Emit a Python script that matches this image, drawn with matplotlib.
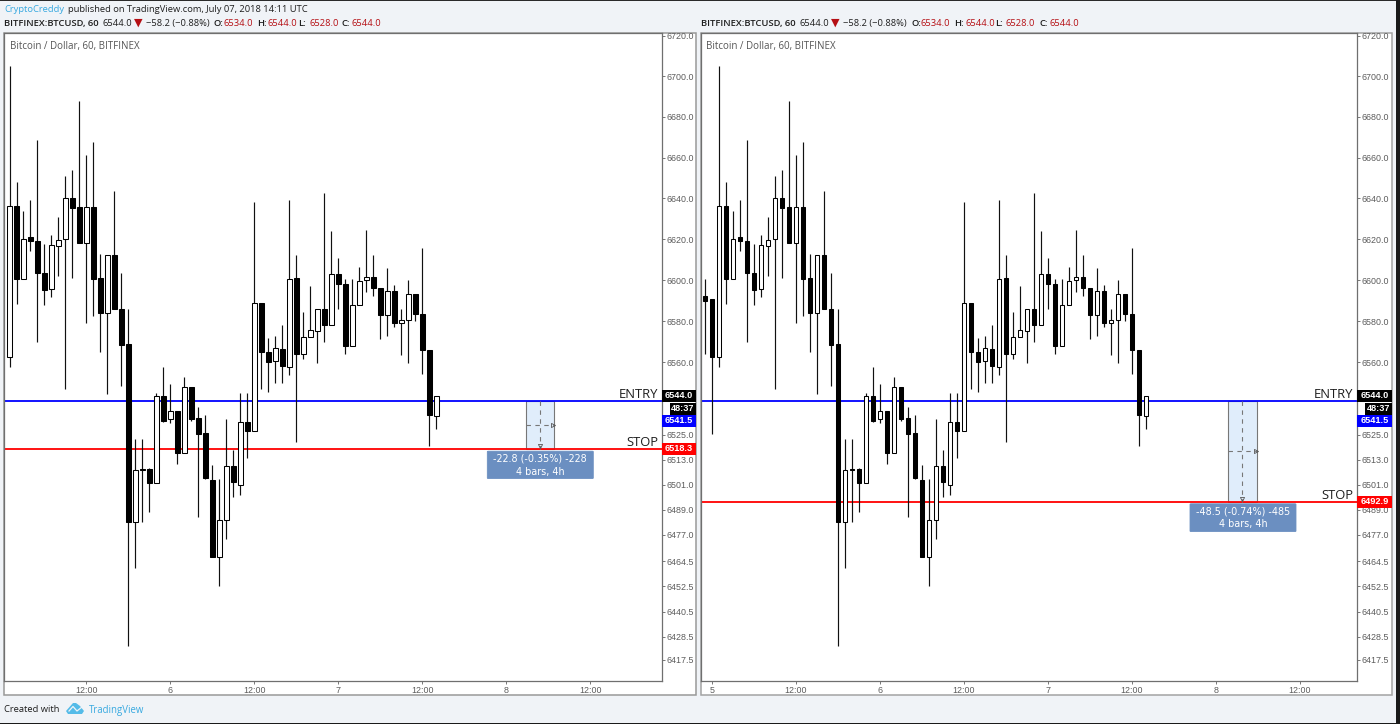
import numpy as np
import matplotlib
matplotlib.use('Agg')
import matplotlib.pyplot as plt
from matplotlib.patches import Rectangle, Polygon, FancyBboxPatch
from matplotlib.ticker import FixedLocator, NullLocator

plt.rcParams['font.family'] = ['Open Sans', 'DejaVu Sans']

# bar number 0 is Jul 5 01:00, hourly bars, the right chart has two more before it
bars = list(range(-2, 62))
opens = [6592.5, 6590.6, 6562.6, 6636, 6600.4, 6621, 6619, 6603.7, 6595.5, 6616.7, 6620, 6640, 6635.5, 6618, 6635.5, 6601,
         6584, 6612, 6586, 6569, 6483, 6508.5, 6508.5, 6501.7, 6544, 6532.8, 6536.4, 6516.5, 6548, 6533, 6525.8, 6503.4,
         6466.7, 6484.4, 6510, 6501, 6531, 6527, 6589, 6565, 6560.5, 6566.6, 6558, 6601, 6564, 6572.3, 6575.4, 6586,
         6578, 6603, 6598, 6568, 6588, 6600, 6601.7, 6596, 6583, 6594.6, 6579, 6580.6, 6593.4, 6583.5, 6566, 6534]
highs = [6600.7, 6590.6, 6705, 6648, 6633.6, 6639, 6668.5, 6617.5, 6622, 6630.6, 6651, 6654, 6688, 6661, 6667.4, 6612.6,
         6612, 6643.7, 6603.7, 6585.7, 6523, 6523, 6509, 6545, 6558, 6549.5, 6536.4, 6553, 6548, 6538.5, 6534.4, 6510.4,
         6503.7, 6532.8, 6517.6, 6545, 6545, 6638, 6589, 6572, 6573, 6578, 6639, 6612, 6584.6, 6597, 6586, 6642.5,
         6624, 6610.7, 6600.4, 6600.7, 6606.6, 6624.6, 6612, 6596, 6606, 6597.6, 6585.7, 6600, 6593.4, 6615.6, 6566, 6544]
lows = [6564, 6525.6, 6557.7, 6588.6, 6600.4, 6614, 6570, 6588, 6591.7, 6602, 6547, 6601, 6618, 6579, 6582.7, 6565,
        6544.8, 6586, 6548.4, 6424, 6461, 6483, 6488, 6501.7, 6531, 6530.7, 6511, 6516.5, 6531.7, 6485.7, 6503.6, 6466.7,
        6452.6, 6475, 6495, 6496, 6514, 6527, 6547, 6545.5, 6550, 6550, 6553.7, 6521.8, 6561.8, 6572.3, 6559.6, 6570,
        6578, 6586, 6564, 6568, 6588, 6594, 6592.5, 6571.5, 6573, 6577, 6563.7, 6559.6, 6580, 6554.6, 6519.7, 6528]
closes = [6590, 6562.5, 6636, 6600.7, 6620, 6619, 6603.7, 6595, 6617, 6619.7, 6640, 6635, 6618, 6635.5, 6600.4, 6584,
          6612, 6586, 6568.5, 6483, 6508, 6508, 6501.7, 6544, 6531.5, 6536.4, 6516.5, 6548, 6532.5, 6525.6, 6504.5, 6466.7,
          6484.4, 6510, 6502.6, 6531, 6527, 6589, 6565, 6560, 6567, 6558.3, 6600.7, 6564, 6572.3, 6575.7, 6586, 6578,
          6603, 6598, 6568, 6588, 6599.6, 6601.7, 6596, 6583, 6594.6, 6579, 6580.6, 6593, 6583.5, 6566, 6534.5, 6544]

price_ticks = [6720, 6700, 6680, 6660, 6640, 6620, 6600, 6580, 6560, 6525, 6513, 6501, 6489, 6477, 6464.5, 6452.5,
               6440.5, 6428.5, 6417.5]
time_ticks = [-1, 11, 23, 35, 47, 59, 71, 83]
time_labels = ['5', '12:00', '6', '12:00', '7', '12:00', '8', '12:00']

entry_price = 6541.5
last_price = 6544.0
countdown = '48:37'
stops = [6518.3, 6492.9]
box_bars = [(73.75, 77.85), (72.75, 76.8)]
box_texts = [('-22.8 (-0.35%) -228', '4 bars, 4h'), ('-48.5 (-0.74%) -485', '4 bars, 4h')]

W, H = 1400, 724
BG = '#f0f3f7'
DARK_RED = '#b50f14'
BLUE_TXT = '#38a9e0'
INK = '#1e1e1e'
TICK = '#5c5c5c'


def fx(px):
    return px / W


def fy(px):
    return 1 - px / H


def fig_rect(x0, y0, x1, y1, **kw):
    fig.add_artist(Rectangle((fx(x0), fy(y1)), (x1 - x0) / W, (y1 - y0) / H, transform=fig.transFigure, **kw))


def fig_text(x, y, s, **kw):
    kw.setdefault('va', 'center')
    kw.setdefault('ha', 'left')
    kw.setdefault('fontsize', 6.75)
    kw.setdefault('color', INK)
    fig.text(fx(x), fy(y), s, **kw)


def price_tag(x0, x1, yc, s, color):
    fig_rect(x0, yc - 6, x1, yc + 6, facecolor=color, edgecolor='none', zorder=5)
    fig_text((x0 + x1) / 2, yc, s, color='white', ha='center', fontsize=6.6, fontweight='bold',
             family='Liberation Sans', zorder=6)


def draw_header(off, top_line):
    if top_line:
        fig_text(4 + off, 9.5, 'CryptoCreddy', color=BLUE_TXT)
        fig_text(68.5 + off, 9.5, 'published on TradingView.com, July 07, 2018 14:11 UTC')
    fig_text(4 + off, 23.5, 'BITFINEX:BTCUSD, 60', fontweight='semibold')
    fig_text(103 + off, 23.5, '6544.0')
    fig_text(134 + off, 23.5, '\u25bc', color=DARK_RED, fontsize=8)
    fig_text(146 + off, 23.5, '\u221258.2 (\u22120.88%)')
    for x, s in [(214, 'O:'), (257, 'H:'), (298, 'L:'), (342, 'C:')]:
        fig_text(x + off, 23.5, s, fontweight='semibold')
    for x, s in [(224, '6534.0'), (268, '6544.0'), (309, '6528.0'), (352, '6544.0')]:
        fig_text(x + off, 23.5, s, color=DARK_RED)


def draw_chart(left, right, panel_right, first, box, stop, texts, bubble_px):
    # one pane: candles, entry and stop lines, the measure box and the price scale
    ax = fig.add_axes([fx(left), fy(681), (right - left) / W, (681 - 33) / H], zorder=2)
    origin = 9.5 if first == 0 else 719
    ax.set_xlim((left - origin) / 7, (right - origin) / 7)
    ax.set_yscale('log')
    scale = np.log(6720 / 6417.5) / (660 - 36)
    ax.set_ylim(6720 * np.exp(-(681 - 36) * scale), 6720 * np.exp((36 - 33) * scale))

    start = bars.index(first)
    x = np.array(bars[start:])
    o = np.array(opens[start:])
    h = np.array(highs[start:])
    l = np.array(lows[start:])
    c = np.array(closes[start:])
    up = c >= o
    ax.axhline(entry_price, color='#0000ff', lw=1.3, zorder=2)
    ax.axhline(stop, color='#ff0000', lw=1.3, zorder=2)
    ax.vlines(x, l, h, color='#111111', lw=0.85, zorder=3)
    ax.bar(x, np.abs(c - o), bottom=np.minimum(o, c), width=0.6,
           color=['white' if u else 'black' for u in up], edgecolor='black', lw=0.75, zorder=4)

    # measure box
    b0, b1 = box
    mid = (b0 + b1) / 2
    ax.add_patch(Rectangle((b0, stop), b1 - b0, entry_price - stop, facecolor='#e0edfb', edgecolor='#777777',
                           lw=0.8, zorder=1.5))
    mid_price = np.sqrt(entry_price * stop)
    ax.plot([mid, mid], [entry_price, stop], color='#777777', lw=0.8, ls=(0, (4, 4)), zorder=2.5)
    ax.plot([b0, b1], [mid_price, mid_price], color='#777777', lw=0.8, ls=(0, (4, 4)), zorder=2.5)
    ax.plot([mid], [stop + 1.2], marker='v', ms=3, mfc='none', mec='#555555', mew=0.6, zorder=2.5)
    ax.plot([b1 - 0.15], [mid_price], marker='>', ms=3, mfc='none', mec='#555555', mew=0.6, zorder=2.5)

    ax.text((right - origin - 3.5) / 7, entry_price, 'ENTRY', ha='right', va='bottom', fontsize=9.4, color=INK)
    ax.text((right - origin - 3.5) / 7, stop, 'STOP', ha='right', va='bottom', fontsize=9.4, color=INK)

    ax.yaxis.tick_right()
    ax.yaxis.set_major_locator(FixedLocator(price_ticks))
    ax.yaxis.set_minor_locator(NullLocator())
    ax.set_yticklabels(['%.1f' % p for p in price_ticks], family='Liberation Sans', fontsize=6.4, color=TICK)
    ax.tick_params(axis='y', which='major', length=2, width=0.7, color='#777777', pad=1.5)
    keep = [(t, s) for t, s in zip(time_ticks, time_labels) if t >= ax.get_xlim()[0]]
    ax.set_xticks([t for t, s in keep])
    ax.set_xticklabels([s for t, s in keep], family='Liberation Sans', fontsize=6.4, color=TICK)
    ax.tick_params(axis='x', length=2, width=0.7, color='#777777', pad=1.5)
    for s in ax.spines.values():
        s.set_color('#6f6f6f')
        s.set_linewidth(0.9)

    fig_text(left + 6, 46, 'Bitcoin / Dollar, 60, BITFINEX', color='#555555', fontsize=7.0, zorder=6)

    # bubble under the measure box
    bx0, by0, bx1, by1 = bubble_px
    fig.add_artist(FancyBboxPatch((fx(bx0 + 1), fy(by1 - 1)), (bx1 - bx0 - 2) / W, (by1 - by0 - 2) / H,
                                  boxstyle='round,pad=0.0007', transform=fig.transFigure,
                                  facecolor='#6b8fc1', edgecolor='#6b8fc1', lw=0.6, zorder=5))
    fig_text((bx0 + bx1) / 2, by0 + 8, texts[0], color='white', ha='center', fontsize=6.9,
             family='DejaVu Sans', zorder=6)
    fig_text((bx0 + bx1) / 2, by0 + 21, texts[1], color='white', ha='center', fontsize=6.9,
             family='DejaVu Sans', zorder=6)

    # tags on the price scale
    to_px = lambda p: H - ax.transData.transform((0, p))[1]
    price_tag(right, panel_right, to_px(last_price), '%.1f' % last_price, 'black')
    price_tag(right + 8, panel_right, 408.5, countdown, 'black')
    price_tag(right, panel_right, 420.8, '%.1f' % entry_price, '#0000ff')
    price_tag(right, panel_right, to_px(stop), '%.1f' % stop, '#ff0000')


fig = plt.figure(figsize=(W / 100, H / 100), dpi=100, facecolor=BG)

# dark edges of the screenshot
fig_rect(0, 0, W, 1, facecolor='#2a2a2a', edgecolor='none', zorder=-2)
fig_rect(0, 722.5, W, H, facecolor='#1a1a1a', edgecolor='none', zorder=-2)
fig_rect(1396, 0, W, H, facecolor='#1a1a1a', edgecolor='none', zorder=-2)

# white panels with the time and price scales
fig_rect(4, 33, 696, 695, facecolor='white', edgecolor='#999999', lw=1.1, zorder=-1)
fig_rect(700.5, 33, 1392, 695, facecolor='white', edgecolor='#a3a3a3', lw=1.1, zorder=-1)

draw_header(0, True)
draw_header(697, False)

draw_chart(4, 662, 696, 0, box_bars[0], stops[0], box_texts[0], (487.3, 450.7, 593.3, 479))
draw_chart(700.5, 1357, 1392, -2, box_bars[1], stops[1], box_texts[1], (1190, 503.3, 1296, 532))

# footer with the logo
fig_text(4, 710, 'Created with', fontsize=6.75)
fig.add_artist(Polygon([(fx(66), fy(711)), (fx(73), fy(703)), (fx(76), fy(703)), (fx(80), fy(706)), (fx(84), fy(711)),
                        (fx(82), fy(714)), (fx(68), fy(714))], closed=True, transform=fig.transFigure,
                       facecolor='#54bbe8', edgecolor='none', zorder=3))
fig.add_artist(plt.Line2D([fx(69), fx(73), fx(77), fx(82)], [fy(711), fy(706.5), fy(711), fy(707)],
                          transform=fig.transFigure, color=BG, lw=0.9, zorder=4))
fig_text(89, 710, 'TradingView', color=BLUE_TXT, fontsize=6.9)

fig.savefig('out.png', dpi=100, facecolor=BG)
